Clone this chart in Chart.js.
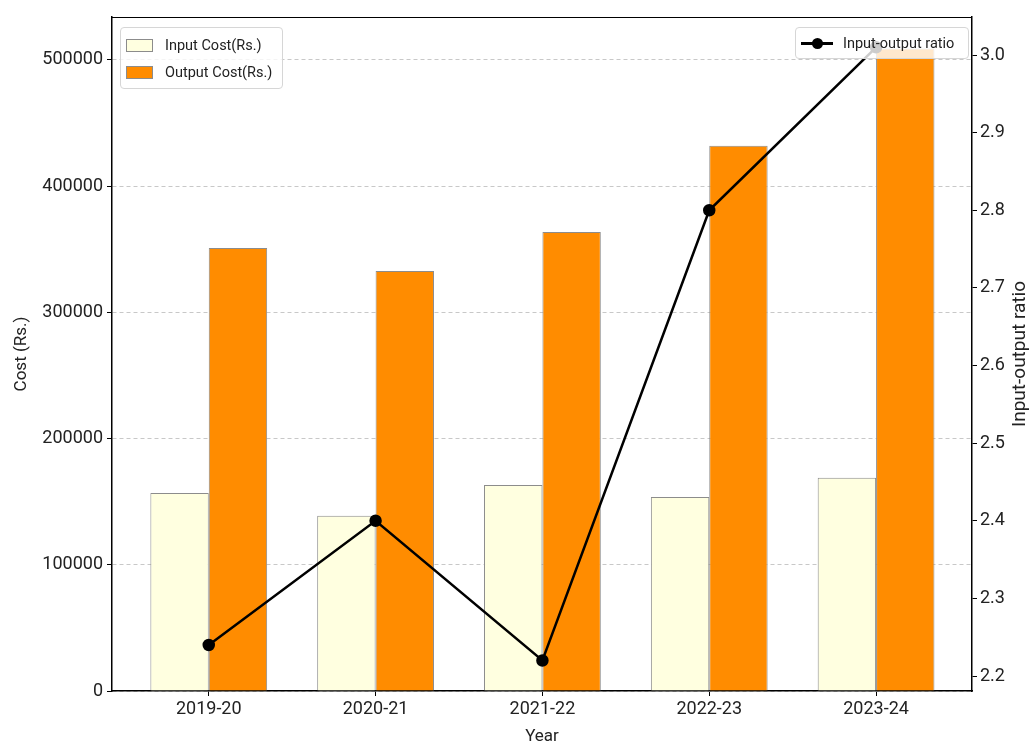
<!DOCTYPE html>
<html>
<head>
<meta charset="utf-8">
<script src="https://cdn.jsdelivr.net/npm/chart.js@4.4.0/dist/chart.umd.min.js"></script>
<style>
  html, body { margin: 0; padding: 0; background: #fff; }
  #wrap { position: relative; width: 1029px; height: 747px; }
  canvas { display: block; }
  .legend {
    position: absolute;
    background: rgba(255,255,255,0.8);
    border: 1px solid #d6d6d6;
    border-radius: 4px;
    font-family: Roboto, 'Open Sans', sans-serif;
    font-size: 14.5px;
    color: #222;
    padding: 4px 5px;
    box-sizing: border-box;
    white-space: nowrap;
  }
  .legend .row { display: flex; align-items: center; height: 27px; }
  .legend .patch { flex: none; width: 27px; height: 13px; margin-right: 12px; box-sizing: border-box; }
  .legend .lineKey { flex: none; position: relative; width: 32px; height: 13px; margin-right: 10px; }
  .legend .lineKey:before {
    content: ''; position: absolute; left: 0; right: 0; top: 5px; height: 3px; background: #000;
  }
  .legend .lineKey:after {
    content: ''; position: absolute; left: 11px; top: 1px; width: 11px; height: 11px; border-radius: 50%; background: #000;
  }
</style>
</head>
<body>
<div id="wrap">
  <canvas id="chart" width="1029" height="747"></canvas>
  <div id="legLeft" class="legend" style="left:120px; top:27px; width:163px; height:62px;"></div>
  <div id="legRight" class="legend" style="left:795px; top:27px; width:174px; height:32px; padding-top:2px;"></div>
</div>
<script>
const years = ['2019-20', '2020-21', '2021-22', '2022-23', '2023-24'];
const inputCost = [156800, 138800, 163300, 153800, 168900];
const outputCost = [351000, 332800, 363700, 432000, 509000];
const ratio = [2.24, 2.40, 2.22, 2.80, 3.01];
const costTicks = [0, 100000, 200000, 300000, 400000, 500000];
const ratioTicks = [2.2, 2.3, 2.4, 2.5, 2.6, 2.7, 2.8, 2.9, 3.0];

const INPUT_COLOR = '#FFFFE0';
const OUTPUT_COLOR = '#FF8C00';
const EDGE_COLOR = '#8c8c8c';
const FONT = 'Roboto, "Open Sans", sans-serif';

const toPoints = arr => arr.map((v, i) => ({ x: i, y: v }));

// draws the top spine and the right axis title (bottom-to-top, like matplotlib)
const framePlugin = {
  id: 'frame',
  afterDraw(chart) {
    const { ctx, chartArea: a } = chart;
    ctx.save();
    ctx.strokeStyle = '#000';
    ctx.lineWidth = 1;
    ctx.beginPath();
    ctx.moveTo(a.left, a.top + 0.5);
    ctx.lineTo(a.right, a.top + 0.5);
    ctx.stroke();
    ctx.translate(1020, (a.top + a.bottom) / 2);
    ctx.rotate(-Math.PI / 2);
    ctx.fillStyle = '#222';
    ctx.font = '19px ' + FONT;
    ctx.textAlign = 'center';
    ctx.textBaseline = 'middle';
    ctx.fillText('Input-output ratio', 0, 0);
    ctx.restore();
  }
};

const chart = new Chart(document.getElementById('chart'), {
  type: 'bar',
  data: {
    datasets: [
      {
        type: 'line',
        label: 'Input-output ratio',
        data: toPoints(ratio),
        yAxisID: 'y2',
        borderColor: '#000',
        backgroundColor: '#000',
        borderWidth: 2.5,
        pointRadius: 5,
        pointBackgroundColor: '#000',
        tension: 0,
        order: 0
      },
      {
        label: 'Input Cost(Rs.)',
        data: toPoints(inputCost),
        yAxisID: 'y',
        backgroundColor: INPUT_COLOR,
        borderColor: EDGE_COLOR,
        borderWidth: 1,
        categoryPercentage: 0.7,
        barPercentage: 1.0,
        order: 1
      },
      {
        label: 'Output Cost(Rs.)',
        data: toPoints(outputCost),
        yAxisID: 'y',
        backgroundColor: OUTPUT_COLOR,
        borderColor: EDGE_COLOR,
        borderWidth: 1,
        categoryPercentage: 0.7,
        barPercentage: 1.0,
        order: 1
      }
    ]
  },
  options: {
    responsive: false,
    animation: false,
    layout: { padding: { top: 17, left: 0, right: 0, bottom: 0 } },
    plugins: {
      legend: { display: false },
      tooltip: { enabled: false }
    },
    scales: {
      x: {
        type: 'linear',
        offset: false,
        min: -0.58,
        max: 4.575,
        afterBuildTicks: axis => { axis.ticks = years.map((_, i) => ({ value: i })); },
        afterFit: axis => { axis.height = 56; },
        ticks: {
          autoSkip: false,
          maxRotation: 0,
          color: '#222',
          font: { family: FONT, size: 18 },
          padding: 3,
          callback: v => years[v]
        },
        grid: { offset: false, drawOnChartArea: false, drawTicks: true, tickLength: 5, tickColor: '#000' },
        border: { color: '#000', width: 1.5 },
        title: { display: true, text: 'Year', color: '#222', font: { family: FONT, size: 17 }, padding: { top: 0, bottom: 0 } }
      },
      y: {
        position: 'left',
        min: 0,
        max: 534000,
        afterBuildTicks: axis => { axis.ticks = costTicks.map(v => ({ value: v })); },
        afterFit: axis => { axis.width = 112; },
        ticks: {
          color: '#222',
          font: { family: FONT, size: 18 },
          padding: 4,
          callback: v => String(v)
        },
        grid: {
          color: '#c8c8c8',
          lineWidth: 1,
          drawTicks: true,
          tickLength: 5,
          tickColor: '#000',
          tickBorderDash: []
        },
        border: { color: '#000', width: 1.5, dash: [4, 3] },
        title: { display: true, text: 'Cost (Rs.)', color: '#222', font: { family: FONT, size: 17 }, padding: { top: 12, bottom: 0 } }
      },
      y2: {
        position: 'right',
        min: 2.1807,
        max: 3.049,
        afterBuildTicks: axis => { axis.ticks = ratioTicks.map(v => ({ value: v })); },
        afterFit: axis => { axis.width = 57; },
        ticks: {
          color: '#222',
          font: { family: FONT, size: 18 },
          padding: 3,
          callback: v => v.toFixed(1)
        },
        grid: { drawOnChartArea: false, drawTicks: true, tickLength: 5, tickColor: '#000' },
        border: { color: '#000', width: 1.5 }
      }
    }
  },
  plugins: [framePlugin]
});

// html legends built from the datasets
function buildLegends() {
  const ds = chart.data.datasets;
  const left = document.getElementById('legLeft');
  ds.filter(d => d.type !== 'line').forEach(d => {
    const row = document.createElement('div');
    row.className = 'row';
    row.innerHTML = '<span class="patch" style="background:' + d.backgroundColor +
      ';border:1px solid ' + d.borderColor + '"></span><span>' + d.label + '</span>';
    left.appendChild(row);
  });
  const right = document.getElementById('legRight');
  ds.filter(d => d.type === 'line').forEach(d => {
    const row = document.createElement('div');
    row.className = 'row';
    row.innerHTML = '<span class="lineKey"></span><span>' + d.label + '</span>';
    right.appendChild(row);
  });
}
buildLegends();
</script>
</body>
</html>
